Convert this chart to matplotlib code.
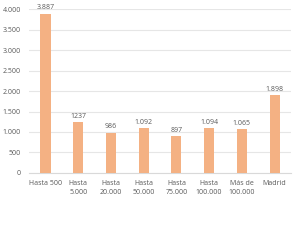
import matplotlib
matplotlib.use("Agg")
import matplotlib.pyplot as plt
from matplotlib.ticker import FuncFormatter

categories = ["Hasta 500", "Hasta\n5.000", "Hasta\n20.000", "Hasta\n50.000", "Hasta\n75.000",
              "Hasta\n100.000", "Más de\n100.000", "Madrid"]
values = [3887, 1237, 986, 1092, 897, 1094, 1065, 1898]
value_labels = ["3.887", "1237", "986", "1.092", "897", "1.094", "1.065", "1.898"]
yticks = [0, 500, 1000, 1500, 2000, 2500, 3000, 3500, 4000]

plt.rcParams['font.family'] = ['Open Sans', 'DejaVu Sans']
txt = "#595959"

fig = plt.figure(figsize=(3.0, 2.45), dpi=100)
ax = fig.add_axes([0.097, 0.294, 0.873, 0.669])
x = range(len(categories))
bars = ax.bar(x, values, width=0.31, color="#F4B183", zorder=3)
for xi, v, lab in zip(x, values, value_labels):
    ax.text(xi, v + 60, lab, ha="center", va="bottom", fontsize=5, color=txt)

ax.set_ylim(0, 4000)
ax.set_xlim(-0.5, len(categories) - 0.5)
ax.set_yticks(yticks)
ax.yaxis.set_major_formatter(FuncFormatter(lambda v, p: f"{int(v):,}".replace(",", ".")))
ax.set_xticks(list(x))
ax.set_xticklabels(categories, fontsize=5, color=txt, linespacing=1.4)
ax.tick_params(axis="y", labelsize=5, labelcolor=txt, length=0, pad=6)
ax.tick_params(axis="x", length=0, pad=5)
ax.grid(axis="y", color="#e6e6e6", linewidth=0.8, zorder=0)
for s in ["top", "right", "left"]:
    ax.spines[s].set_visible(False)
ax.spines["bottom"].set_color("#d9d9d9")
ax.spines["bottom"].set_linewidth(0.8)

fig.savefig("out.png", dpi=100)
